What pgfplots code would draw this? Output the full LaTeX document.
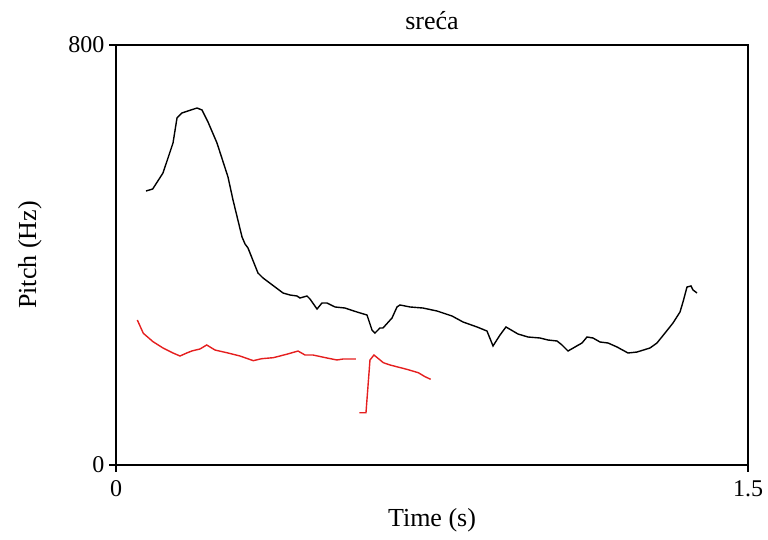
\documentclass[border=0pt]{standalone}
\usepackage{pgfplots}
\pgfplotsset{compat=1.18}
\usepackage{fontspec}
\setmainfont{Liberation Serif}
\definecolor{praatred}{rgb}{0.9,0.12,0.12}
\begin{document}
\begin{tikzpicture}[x=1pt,y=1pt]
\begin{axis}[
  at={(116pt,75pt)}, anchor=south west,
  scale only axis, width=632pt, height=420pt,
  xmin=0, xmax=1.5, ymin=0, ymax=800,
  xtick={0,1.5}, ytick={0,800},
  xticklabels={0,1.5}, yticklabels={0,800},
  xtick pos=left, ytick pos=left,
  tick align=outside, major tick length=7pt,
  tick style={line width=1.4pt, black},
  axis line style={line width=1.6pt},
  every tick label/.append style={font=\fontsize{24}{28}\selectfont},
  /pgf/number format/assume math mode=true,
  xticklabel style={yshift=-5pt},
  yticklabel style={xshift=-1pt},
  title={sreća}, title style={font=\fontsize{26}{30}\selectfont, yshift=6pt},
  xlabel={Time (s)}, ylabel={Pitch (Hz)},
  label style={font=\fontsize{26}{30}\selectfont},
  xlabel style={yshift=-5pt},
  ylabel style={yshift=20pt},
  clip=false,
]
\addplot[black, line width=1.4pt] coordinates {
(0.0712,521.9) (0.0871,525.7) (0.1115,556.2) (0.1353,613.3) (0.1448,661.0)
(0.1566,670.5) (0.1922,680.0) (0.2041,676.2) (0.2184,653.3) (0.2397,613.3)
(0.2658,548.6) (0.2777,504.8) (0.2991,434.3) (0.3062,421.0) (0.3133,413.3)
(0.3370,365.7) (0.3489,356.2) (0.3964,327.6) (0.4130,323.8) (0.4296,321.9)
(0.4367,318.1) (0.4533,321.9) (0.4604,316.2) (0.4771,297.1) (0.4889,308.6)
(0.5008,308.6) (0.5198,301.0) (0.5435,299.0) (0.5720,291.4) (0.5957,285.7)
(0.6076,257.1) (0.6147,251.4) (0.6266,261.0) (0.6337,261.0) (0.6551,280.0)
(0.6669,301.0) (0.6741,304.8) (0.6978,301.0) (0.7286,299.0) (0.7619,293.3)
(0.7975,283.8) (0.8236,272.4) (0.8568,262.9) (0.8805,255.2) (0.8948,226.7)
(0.9114,247.6) (0.9256,262.9) (0.9541,249.5) (0.9779,243.8) (1.0063,241.9)
(1.0253,238.1) (1.0467,236.2) (1.0585,228.6) (1.0728,217.1) (1.0894,224.8)
(1.1060,232.4) (1.1179,243.8) (1.1321,241.9) (1.1487,234.3) (1.1677,232.4)
(1.1891,224.8) (1.2152,213.3) (1.2366,215.2) (1.2674,222.9) (1.2840,232.4)
(1.3030,251.4) (1.3220,270.5) (1.3386,291.4) (1.3457,310.5) (1.3552,339.0)
(1.3647,341.0) (1.3695,333.3) (1.3790,327.6)
};
\addplot[praatred, line width=1.4pt] coordinates {
(0.0506,276.2) (0.0648,250.9) (0.0878,234.9) (0.1115,222.9) (0.1353,213.3)
(0.1519,207.6) (0.1678,213.3) (0.1797,217.1) (0.1994,221.0) (0.2153,228.6)
(0.2350,219.0) (0.2627,213.9) (0.2943,207.6) (0.3259,198.7) (0.3458,202.5)
(0.3733,204.4) (0.4051,210.9) (0.4320,217.1) (0.4486,209.5) (0.4676,209.5)
(0.5008,203.8) (0.5245,200.0) (0.5388,201.9) (0.5554,201.9) (0.5696,201.9)
};
\addplot[praatred, line width=1.4pt] coordinates {
(0.5775,99.6) (0.5933,99.6) (0.6028,200.0) (0.6123,209.5) (0.6344,194.9)
(0.6503,190.5) (0.6900,182.3) (0.7175,175.8) (0.7334,168.2) (0.7469,163.2)
};
\end{axis}
\pgfresetboundingbox
\path[use as bounding box] (0,0) rectangle (768,540);
\end{tikzpicture}
\end{document}
